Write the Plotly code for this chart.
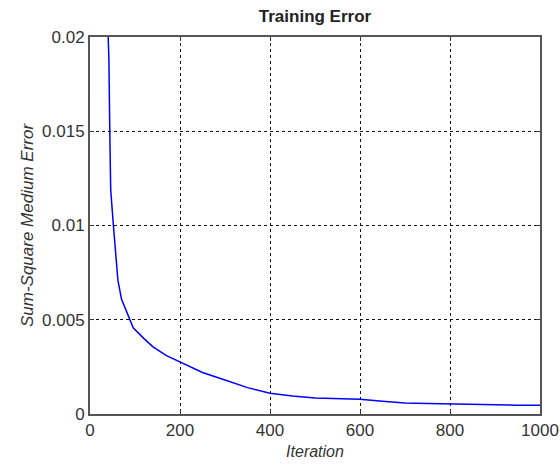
import plotly.graph_objects as go

iterations = [40, 42, 44, 46, 52, 57, 62, 70, 89, 96, 120, 140, 170, 200, 250, 300,
              350, 400, 450, 500, 550, 600, 650, 700, 750, 800, 850, 900, 950, 1000]
errors = [0.0203, 0.0188, 0.0150, 0.0119, 0.0100, 0.0087, 0.0071, 0.0061, 0.00505,
          0.00457, 0.0040, 0.00356, 0.0031, 0.00276, 0.0022, 0.0018, 0.0014, 0.0011,
          0.00095, 0.00085, 0.0008, 0.00078, 0.00068, 0.00058, 0.00056, 0.00053,
          0.00052, 0.0005, 0.00047, 0.00046]
x_ticks = [0, 200, 400, 600, 800, 1000]
y_ticks = [0, 0.005, 0.01, 0.015, 0.02]
y_tick_labels = ["0", "0.005", "0.01", "0.015", "0.02"]

FONT = "Liberation Sans, Arial"

fig = go.Figure()
fig.add_trace(go.Scatter(x=iterations, y=errors, mode="lines",
                         line=dict(color="#0000ff", width=1.5), showlegend=False))

axis_common = dict(
    showline=True, linecolor="#555555", linewidth=2, mirror="ticks",
    ticks="inside", ticklen=4, tickcolor="#333333",
    showgrid=True, gridcolor="#111111", gridwidth=1, griddash="3px,3px",
    zeroline=False, automargin=False,
    tickfont=dict(family=FONT, size=17, color="#333333"),
)

fig.update_layout(
    width=560, height=464,
    margin=dict(l=90, r=20, t=37, b=50),
    paper_bgcolor="white", plot_bgcolor="white",
    title=dict(text="<b>Training Error</b>", x=0.5625, xanchor="center", y=0.965, yanchor="middle",
               font=dict(family=FONT, size=17, color="#222222")),
    xaxis=dict(range=[0, 1000], tickvals=x_ticks, **axis_common,
               title=dict(text="<i>Iteration</i>", standoff=6,
                          font=dict(family=FONT, size=16, color="#333333"))),
    yaxis=dict(range=[0, 0.02], tickvals=y_ticks, ticktext=y_tick_labels, **axis_common,
               title=dict(text="<i>Sum-Square Medium Error</i>", standoff=4,
                          font=dict(family=FONT, size=17, color="#333333"))),
)

fig.write_html("out.html")
